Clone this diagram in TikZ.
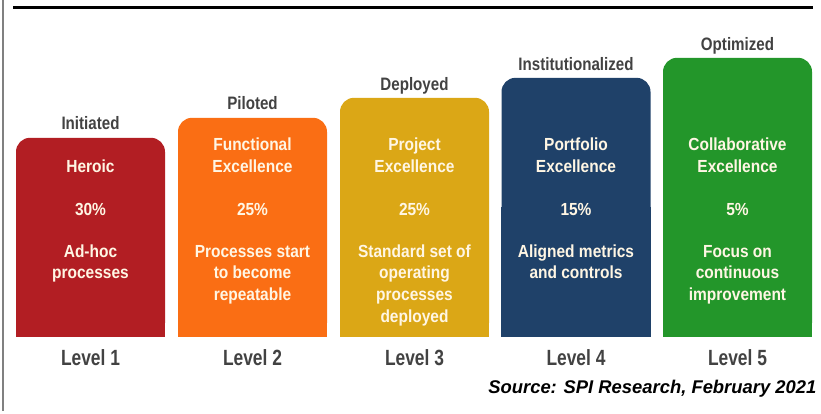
\documentclass[tikz,border=0pt]{standalone}
\usepackage{fontspec}
\setmainfont{Liberation Sans}
\newfontfamily\innerfont{Liberation Sans}[FakeStretch=0.885]
\newfontfamily\levelfont{Liberation Sans}[FakeStretch=0.79]
\newfontfamily\stagefont{Liberation Sans}[FakeStretch=0.84]
\definecolor{cred}{HTML}{B21E23}
\definecolor{corange}{HTML}{FA6E14}
\definecolor{cgold}{HTML}{DBA716}
\definecolor{cnavy}{HTML}{1F4169}
\definecolor{cgreen}{HTML}{23962A}
\definecolor{ctext}{HTML}{FFF6E4}
\definecolor{clabel}{HTML}{424242}
\tikzset{
  lvlbox/.style={minimum width=149pt, inner sep=0pt, rounded corners=14pt, anchor=south},
  inner/.style={font=\innerfont\bfseries\fontsize{17.5}{20}\selectfont, text=ctext, anchor=base, inner sep=0pt},
  stage/.style={font=\stagefont\bfseries\fontsize{18}{20}\selectfont, text=clabel, anchor=base, inner sep=0pt},
  levellbl/.style={font=\levelfont\bfseries\fontsize{22}{24}\selectfont, text=clabel, anchor=base, inner sep=0pt},
}
\begin{document}
\begin{tikzpicture}[x=1pt,y=-1pt]
\useasboundingbox (0,0) rectangle (821,413);
% frame
\draw[line width=3pt] (13,7) -- (813,7);
\draw[line width=2pt, black!50] (3,0) -- (3,411);
% boxes
\node[lvlbox, fill=cred, minimum height=199pt] (box1) at (90.5,337) {};
\fill[cred] (box1.south west) rectangle (box1.east);
\node[lvlbox, fill=corange, minimum height=219pt] (box2) at (252.5,337) {};
\fill[corange] (box2.south west) rectangle (box2.east);
\node[lvlbox, fill=cgold, minimum height=239pt] (box3) at (414.5,337) {};
\fill[cgold] (box3.south west) rectangle (box3.east);
\node[lvlbox, fill=cnavy, minimum height=259pt] (box4) at (576,337) {};
\fill[cnavy] (box4.south west) rectangle (box4.east);
\node[lvlbox, fill=cgreen, minimum height=279pt] (box5) at (737.5,337) {};
\fill[cgreen] (box5.south west) rectangle (box5.east);
% stage labels
\node[stage] (s1) at (90.5,129) {Initiated};
\node[stage] (s2) at (252.5,109.5) {Piloted};
\node[stage] (s3) at (414.5,90) {Deployed};
\node[stage] (s4) at (576,70.5) {Institutionalized};
\node[stage] (s5) at (737.5,50.5) {Optimized};
% box 1
\node[inner] (t1b) at (90.5,172) {Heroic};
\node[inner] (p1) at (90.5,215) {30\%};
\node[inner] (d1a) at (90.5,257) {Ad-hoc};
\node[inner] (d1b) at (90.5,278.7) {processes};
% box 2
\node[inner] (t2a) at (252.5,150) {Functional};
\node[inner] (t2b) at (252.5,172) {Excellence};
\node[inner] (p2) at (252.5,215) {25\%};
\node[inner] (d2a) at (252.5,257) {Processes start};
\node[inner] (d2b) at (252.5,278.7) {to become};
\node[inner] (d2c) at (252.5,300.4) {repeatable};
% box 3
\node[inner] (t3a) at (414.5,150) {Project};
\node[inner] (t3b) at (414.5,172) {Excellence};
\node[inner] (p3) at (414.5,215) {25\%};
\node[inner] (d3a) at (414.5,257) {Standard set of};
\node[inner] (d3b) at (414.5,278.7) {operating};
\node[inner] (d3c) at (414.5,300.4) {processes};
\node[inner] (d3d) at (414.5,322.1) {deployed};
% box 4
\node[inner] (t4a) at (576,150.5) {Portfolio};
\node[inner] (t4b) at (576,172.5) {Excellence};
\node[inner] (p4) at (576,215) {15\%};
\node[inner] (d4a) at (576,257) {Aligned metrics};
\node[inner] (d4b) at (576,278.7) {and controls};
% box 5
\node[inner] (t5a) at (737.5,150) {Collaborative};
\node[inner] (t5b) at (737.5,172) {Excellence};
\node[inner] (p5) at (737.5,215) {5\%};
\node[inner] (d5a) at (737.5,257) {Focus on};
\node[inner] (d5b) at (737.5,278.7) {continuous};
\node[inner] (d5c) at (737.5,300.4) {improvement};
% level labels
\node[levellbl] (l1) at (90.5,365) {Level 1};
\node[levellbl] (l2) at (252.5,365) {Level 2};
\node[levellbl] (l3) at (414.5,365) {Level 3};
\node[levellbl] (l4) at (576,365) {Level 4};
\node[levellbl] (l5) at (737.5,365) {Level 5};
% source
\node[font=\bfseries\itshape\fontsize{18.4}{20}\selectfont, anchor=base east, inner sep=0pt] (src) at (816.5,393.5) {Source: SPI Research, February 2021};
\end{tikzpicture}
\end{document}
